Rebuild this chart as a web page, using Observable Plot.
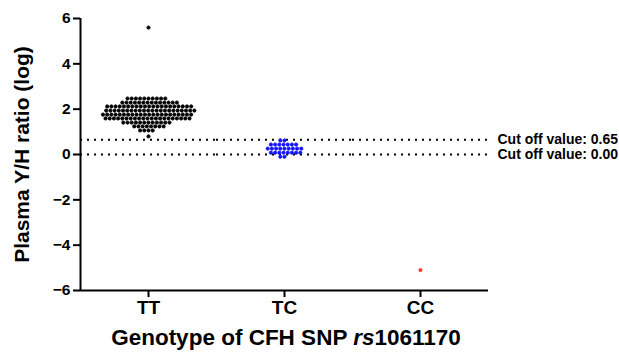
<!DOCTYPE html>
<html><head><meta charset="utf-8">
<script src="https://cdn.jsdelivr.net/npm/d3@7"></script>
<script src="https://cdn.jsdelivr.net/npm/@observablehq/plot@0.6"></script>
<style>
body{margin:0;background:#fff;font-family:"Liberation Sans",Arial,sans-serif;}
#wrap{position:relative;width:619px;height:353px;}
#xtitle{position:absolute;left:0;top:325px;width:572px;text-align:center;font-weight:bold;font-size:22.5px;line-height:26px;color:#000;}
g[aria-label="y-axis tick label"], g[aria-label="y-axis tick label"] text {font-size:15.5px;}
g[aria-label="fx-axis tick label"], g[aria-label="fx-axis tick label"] text {font-size:19px;}
g[aria-label="y-axis label"], g[aria-label="y-axis label"] text {font-size:21px;}
</style></head><body>
<div id="wrap"><div id="chart"></div><div id="xtitle">Genotype of CFH SNP <i>rs</i>1061170</div></div>
<script>
const genotypes = ["TT", "TC", "CC"];
const ttValues = [
  5.6,
  2.47,2.47,2.47,2.47,2.47,2.47,2.47,2.47,2.47,2.47,
  2.29,2.29,2.29,2.29,2.29,2.29,2.29,2.29,2.29,2.29,2.29,2.29,2.29,2.29,
  2.12,2.12,2.12,2.12,2.12,2.12,2.12,2.12,2.12,2.12,2.12,2.12,2.12,2.12,2.12,2.12,2.12,2.12,2.12,2.12,2.12,
  1.94,1.94,1.94,1.94,1.94,1.94,1.94,1.94,1.94,1.94,1.94,1.94,1.94,1.94,1.94,1.94,1.94,1.94,1.94,1.94,1.94,1.94,
  1.76,1.76,1.76,1.76,1.76,1.76,1.76,1.76,1.76,1.76,1.76,1.76,1.76,1.76,1.76,1.76,1.76,1.76,1.76,1.76,1.76,1.76,
  1.59,1.59,1.59,1.59,1.59,1.59,1.59,1.59,1.59,1.59,1.59,1.59,1.59,1.59,1.59,1.59,1.59,1.59,1.59,1.59,1.59,
  1.41,1.41,1.41,1.41,1.41,1.41,1.41,1.41,1.41,1.41,1.41,1.41,
  1.24,1.24,1.24,1.24,1.24,1.24,1.24,1.24,
  1.06,1.06,1.06,1.06,
  0.8
];
const tcValues = [
  0.62,0.62,
  0.44,0.44,0.44,0.44,0.44,0.44,0.44,
  0.26,0.26,0.26,0.26,0.26,0.26,0.26,0.26,0.26,
  0.08,0.08,0.08,0.08,0.08,0.08,0.08,0.08,
  -0.1,-0.1
];
const ccValues = [-5.1];
const cutoffs = [0.65, 0.00];
const cutoffLabels = ["Cut off value: 0.65", "Cut off value: 0.00"];
const yTicks = [-6, -4, -2, 0, 2, 4, 6];
const groupColors = {TT: "#000000", TC: "#1414ff", CC: "#ff3333"};

const points = [
  ...ttValues.map(v => ({g: "TT", v})),
  ...tcValues.map(v => ({g: "TC", v})),
  ...ccValues.map(v => ({g: "CC", v}))
];

const chart = Plot.plot({
  width: 619,
  height: 323,
  marginLeft: 79,
  marginRight: 131,
  marginTop: 18,
  marginBottom: 33,
  style: {fontFamily: "'Liberation Sans', Arial, sans-serif", fontWeight: "bold", fontSize: "16px", color: "#000", background: "#fff"},
  fx: {domain: genotypes, padding: 0, label: null},
  x: {domain: [0, 1], axis: null},
  y: {domain: [-6, 6], axis: null},
  marks: [
    Plot.ruleY(cutoffs, {y: d => d, stroke: "#000", strokeWidth: 2, strokeDasharray: "2,5"}),
    Plot.ruleY([-6], {stroke: "#000", strokeWidth: 2}),
    Plot.ruleX([0], {fx: ["TT"], x: d => d, stroke: "#000", strokeWidth: 2}),
    Plot.dot(points, Plot.dodgeX("middle", {fx: "g", y: "v", r: 1.6, padding: 0.5, fill: d => groupColors[d.g], stroke: d => groupColors[d.g], strokeWidth: 0.9})),
    Plot.text(cutoffs, {fx: ["CC", "CC"], y: d => d, text: (d, i) => cutoffLabels[i], frameAnchor: "right", dx: 9, textAnchor: "start", fontSize: 14, fontWeight: "bold", fill: "#000"}),
    Plot.axisY({ticks: yTicks, tickSize: 7, strokeWidth: 2, tickPadding: 3, fontSize: 15.5, label: "Plasma Y/H ratio (log)", labelAnchor: "center", labelArrow: "none", labelOffset: 66}),
    Plot.axisFx({anchor: "bottom", tickSize: 7, strokeWidth: 2, tickPadding: 3, fontSize: 19, label: null})
  ]
});
document.getElementById("chart").appendChild(chart);
</script>
</body></html>
